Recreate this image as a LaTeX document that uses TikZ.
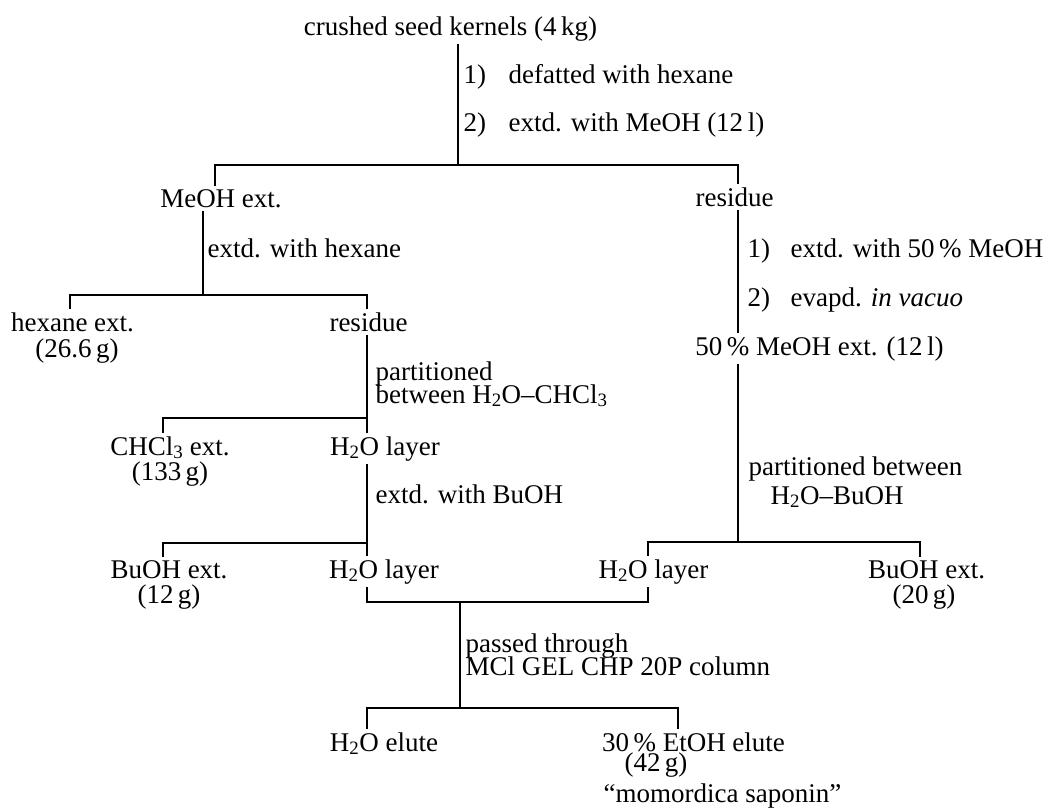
\documentclass[tikz,border=0pt]{standalone}
\usepackage{fontspec}
\setmainfont{Liberation Serif}
\usepackage{tikz}
\usetikzlibrary{positioning}

\newcommand{\flowfont}{\fontsize{27}{30}\selectfont}

\begin{document}
\begin{tikzpicture}[x=1pt,y=-1pt,line width=1.1pt,
  product/.style={anchor=base,inner xsep=0pt,inner ysep=3pt,font=\flowfont},
  treat/.style={anchor=base west,inner sep=0pt,font=\flowfont}]
\useasboundingbox (0,0) rectangle (1044,809);

% junctions of the brackets
\coordinate (m1) at (458,165);
\coordinate (l1) at (215,165);
\coordinate (r1) at (738,165);
\coordinate (m2) at (203,295);
\coordinate (l2) at (70,295);
\coordinate (r2) at (367,295);
\coordinate (l3) at (163,418);
\coordinate (r3) at (367,418);
\coordinate (l4) at (163,543);
\coordinate (r4) at (367,543);
\coordinate (l5) at (648,542);
\coordinate (r5) at (920,542);
\coordinate (m5) at (738,542);
\coordinate (l6) at (367,602);
\coordinate (r6) at (648,602);
\coordinate (m6) at (460,602);
\coordinate (l7) at (367,708);
\coordinate (r7) at (678,708);
\coordinate (m7) at (460,708);

% top
\node[product] (crushed) at (450.5,35) {crushed seed kernels (4\,kg)};
\node[treat] (stepa) at (463,83) {\makebox[45pt][l]{1)}defatted with hexane};
\node[treat] (stepb) at (463,131) {\makebox[45pt][l]{2)}extd. with MeOH (12\,l)};

% left branch
\node[product] (meoh) at (221,207) {MeOH ext.};
\node[treat] (hexstep) at (207,257) {extd. with hexane};
\node[product] (hexext) at (72.5,331) {hexane ext.};
\node[product] (hexmass) [below right=26pt and 4.5pt of hexext.base, anchor=base] {(26.6\,g)};
\node[product] (resb) at (368.5,331) {residue};
\node[treat] (parta) at (375,380) {partitioned};
\node[treat] (partb) [below=23pt of parta.base west, anchor=base west] {between H\textsubscript{2}O--CHCl\textsubscript{3}};
\node[product] (chcl) at (170,455) {CHCl\textsubscript{3} ext.};
\node[product] (chclmass) [below=25pt of chcl.base, anchor=base] {(133\,g)};
\node[product] (watera) at (385,455) {H\textsubscript{2}O layer};
\node[treat] (buohstep) at (375,503) {extd. with BuOH};
\node[product] (buoha) at (169,578) {BuOH ext.};
\node[product] (buohamass) [below=25pt of buoha.base, anchor=base] {(12\,g)};
\node[product] (waterb) at (384,578) {H\textsubscript{2}O layer};

% right branch
\node[product] (resa) at (734.5,206) {residue};
\node[treat] (stepc) at (747,257) {\makebox[43pt][l]{1)}extd. with 50\,\% MeOH};
\node[treat] (stepd) at (747,306) {\makebox[43pt][l]{2)}evapd. \textit{in vacuo}};
\node[product] (meohhalf) at (819.5,355) {50\,\% MeOH ext. (12\,l)};
\node[treat] (parte) at (748,475) {partitioned between};
\node[treat] (partf) [below right=29pt and 22pt of parte.base west, anchor=base west] {H\textsubscript{2}O--BuOH};
\node[product] (waterc) at (653.5,578) {H\textsubscript{2}O layer};
\node[product] (buohb) at (926.5,578) {BuOH ext.};
\node[product] (buohbmass) [below left=25pt and 2.5pt of buohb.base, anchor=base] {(20\,g)};

% column
\node[treat] (cola) at (465,652) {passed through};
\node[treat] (colb) [below=23pt of cola.base west, anchor=base west] {MCl GEL CHP 20P column};
\node[product] (elutea) at (384,751) {H\textsubscript{2}O elute};
\node[product] (eluteb) at (693.5,751) {30\,\% EtOH elute};
\node[product] (elutebmass) [below left=20pt and 37.5pt of eluteb.base, anchor=base] {(42\,g)};
\node[product] (saponin) [below right=51pt and 29pt of eluteb.base, anchor=base] {``momordica saponin''};

% connectors
\draw (crushed.south -| m1) -- (m1);
\draw (meoh.north -| l1) -- (l1) -- (r1) -- (resa.north -| r1);
\draw (meoh.south -| m2) -- (m2);
\draw (hexext.north -| l2) -- (l2) -- (r2) -- (resb.north -| r2);
\draw (resb.south -| r3) -- (r3);
\draw (chcl.north -| l3) -- (l3) -- (r3) -- (watera.north -| r3);
\draw (watera.south -| r4) -- (r4);
\draw (buoha.north -| l4) -- (l4) -- (r4) -- (waterb.north -| r4);
\draw (resa.south -| r1) -- (meohhalf.north -| r1);
\draw (meohhalf.south -| m5) -- (m5);
\draw (waterc.north -| l5) -- (l5) -- (r5) -- (buohb.north -| r5);
\draw (waterb.south -| l6) -- (l6) -- (r6) -- (waterc.south -| r6);
\draw (m6) -- (m7);
\draw (elutea.north -| l7) -- (l7) -- (r7) -- (eluteb.north -| r7);
\end{tikzpicture}
\end{document}
